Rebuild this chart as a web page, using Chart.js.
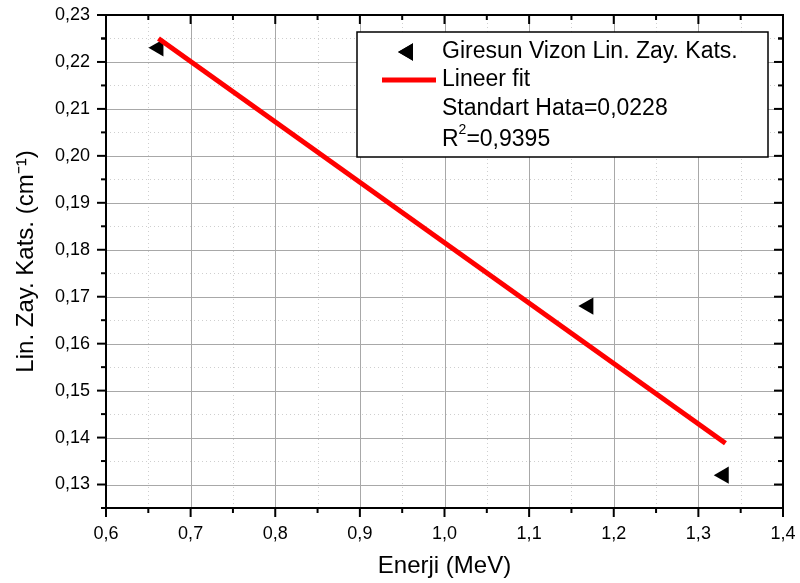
<!DOCTYPE html>
<html>
<head>
<meta charset="utf-8">
<script src="https://cdn.jsdelivr.net/npm/chart.js@4/dist/chart.umd.min.js"></script>
<style>
  html, body { margin: 0; padding: 0; background: #fff; }
</style>
</head>
<body>
<canvas id="myChart" width="800" height="583"></canvas>
<script>
// measured attenuation points
const energies = [0.662, 1.17, 1.33];
const attenuation = [0.223, 0.168, 0.132];
// linear fit end points
const fitEnergies = [0.662, 1.332];
const fitValues = [0.2250, 0.1388];

const xTicks = [0.6, 0.7, 0.8, 0.9, 1.0, 1.1, 1.2, 1.3, 1.4];
const yTicks = [0.13, 0.14, 0.15, 0.16, 0.17, 0.18, 0.19, 0.20, 0.21, 0.22, 0.23];

const seriesLabel = 'Giresun Vizon Lin. Zay. Kats.';
const fitLabel = 'Lineer fit';
const fitError = 'Standart Hata=0,0228';
const fitR2 = '0,9395';

const FONT = "'Liberation Sans', Arial, sans-serif";

function comma(v, digits) {
  return v.toFixed(digits).replace('.', ',');
}

function minorTicks(ticks) {
  const out = [];
  for (let i = 0; i < ticks.length - 1; i++) out.push((ticks[i] + ticks[i + 1]) / 2);
  return out;
}

const framePlugin = {
  id: 'frame',
  beforeDatasetsDraw(chart) {
    const { ctx, chartArea: a, scales: { x, y } } = chart;
    ctx.save();
    // dotted minor grid
    ctx.strokeStyle = '#cfcfcf';
    ctx.lineWidth = 1;
    ctx.setLineDash([1, 3]);
    minorTicks(xTicks).forEach(v => {
      const px = Math.round(x.getPixelForValue(v)) + 0.5;
      ctx.beginPath(); ctx.moveTo(px, a.top); ctx.lineTo(px, a.bottom); ctx.stroke();
    });
    minorTicks(yTicks).concat([0.125, 0.225]).forEach(v => {
      const py = Math.round(y.getPixelForValue(v)) + 0.5;
      ctx.beginPath(); ctx.moveTo(a.left, py); ctx.lineTo(a.right, py); ctx.stroke();
    });
    // solid major grid
    ctx.setLineDash([]);
    ctx.strokeStyle = '#a8a8a8';
    xTicks.forEach(v => {
      const px = Math.round(x.getPixelForValue(v)) + 0.5;
      ctx.beginPath(); ctx.moveTo(px, a.top); ctx.lineTo(px, a.bottom); ctx.stroke();
    });
    yTicks.forEach(v => {
      const py = Math.round(y.getPixelForValue(v)) + 0.5;
      ctx.beginPath(); ctx.moveTo(a.left, py); ctx.lineTo(a.right, py); ctx.stroke();
    });
    ctx.restore();
  },
  afterDatasetsDraw(chart) {
    const { ctx, chartArea: a, scales: { x, y } } = chart;
    ctx.save();
    ctx.strokeStyle = '#000';
    ctx.lineWidth = 2;
    ctx.strokeRect(a.left, a.top, a.right - a.left, a.bottom - a.top);

    const tick = (x1, y1, x2, y2) => {
      ctx.beginPath(); ctx.moveTo(x1, y1); ctx.lineTo(x2, y2); ctx.stroke();
    };
    xTicks.forEach(v => {
      const px = x.getPixelForValue(v);
      tick(px, a.bottom, px, a.bottom + 9);
      tick(px, a.top, px, a.top + 9);
    });
    minorTicks(xTicks).forEach(v => {
      const px = x.getPixelForValue(v);
      tick(px, a.bottom, px, a.bottom + 5);
      tick(px, a.top, px, a.top + 5);
    });
    yTicks.forEach(v => {
      const py = y.getPixelForValue(v);
      tick(a.left, py, a.left - 9, py);
      tick(a.right, py, a.right - 9, py);
    });
    minorTicks(yTicks).concat([0.125, 0.225]).forEach(v => {
      const py = y.getPixelForValue(v);
      tick(a.left, py, a.left - 5, py);
      tick(a.right, py, a.right - 5, py);
    });

    // legend box
    const bx = 357, by = 32, bw = 411, bh = 125;
    ctx.fillStyle = '#fff';
    ctx.fillRect(bx, by, bw, bh);
    ctx.lineWidth = 1.5;
    ctx.strokeStyle = '#000';
    ctx.strokeRect(bx, by, bw, bh);

    const tx = 442;
    ctx.fillStyle = '#000';
    ctx.font = '23px ' + FONT;
    ctx.textBaseline = 'middle';
    ctx.textAlign = 'left';

    // triangle marker
    Chart.helpers.drawPoint(ctx, { pointStyle: 'triangle', radius: 10, rotation: 270, borderWidth: 0 }, 408, 52);
    ctx.fill();
    ctx.fillText(seriesLabel, tx, 52);

    ctx.strokeStyle = '#ff0000';
    ctx.lineWidth = 5;
    ctx.beginPath(); ctx.moveTo(382, 80); ctx.lineTo(436, 80); ctx.stroke();
    ctx.fillText(fitLabel, tx, 80);

    ctx.fillText(fitError, tx, 109);

    ctx.fillText('R', tx, 140);
    const rw = ctx.measureText('R').width;
    ctx.font = '14px ' + FONT;
    ctx.fillText('2', tx + rw, 130);
    const sw = ctx.measureText('2').width;
    ctx.font = '23px ' + FONT;
    ctx.fillText('=' + fitR2, tx + rw + sw, 140);
    ctx.restore();
  }
};

const ctx = document.getElementById('myChart').getContext('2d');
const myChart = new Chart(ctx, {
  type: 'scatter',
  data: {
    datasets: [{
      label: fitLabel,
      data: fitEnergies.map((e, i) => ({ x: e, y: fitValues[i] })),
      showLine: true,
      borderColor: '#ff0000',
      borderWidth: 5,
      pointRadius: 0,
      order: 0
    }, {
      label: seriesLabel,
      data: energies.map((e, i) => ({ x: e, y: attenuation[i] })),
      pointStyle: 'triangle',
      rotation: 270,
      pointRadius: 10,
      backgroundColor: '#000',
      borderWidth: 0,
      order: 1
    }]
  },
  options: {
    responsive: false,
    animation: false,
    layout: { padding: { top: 15, right: 17, left: 0, bottom: 0 } },
    plugins: {
      legend: { display: false },
      tooltip: { enabled: false }
    },
    scales: {
      x: {
        type: 'linear',
        min: 0.6,
        max: 1.4,
        afterBuildTicks: s => { s.ticks = xTicks.map(v => ({ value: v })); },
        afterFit: s => { s.height = 75; s.paddingLeft = 0; s.paddingRight = 0; },
        grid: { display: false, drawTicks: false },
        border: { display: false },
        ticks: {
          color: '#000',
          padding: 15,
          maxRotation: 0,
          font: { family: FONT, size: 18 },
          callback: v => comma(v, 1)
        },
        title: {
          display: true,
          text: 'Enerji (MeV)',
          color: '#000',
          font: { family: FONT, size: 24 },
          padding: { top: 0, bottom: 2 }
        }
      },
      y: {
        type: 'linear',
        min: 0.125,
        max: 0.23,
        afterBuildTicks: s => { s.ticks = yTicks.map(v => ({ value: v })); },
        afterFit: s => { s.width = 106; s.paddingTop = 0; s.paddingBottom = 0; },
        grid: { display: false, drawTicks: false },
        border: { display: false },
        ticks: {
          color: '#000',
          padding: 16,
          font: { family: FONT, size: 18 },
          callback: v => comma(v, 2)
        },
        title: {
          display: true,
          text: 'Lin. Zay. Kats. (cm⁻¹)',
          color: '#000',
          font: { family: FONT, size: 24 },
          padding: { top: 12, bottom: 0 }
        }
      }
    }
  },
  plugins: [framePlugin]
});
</script>
</body>
</html>
